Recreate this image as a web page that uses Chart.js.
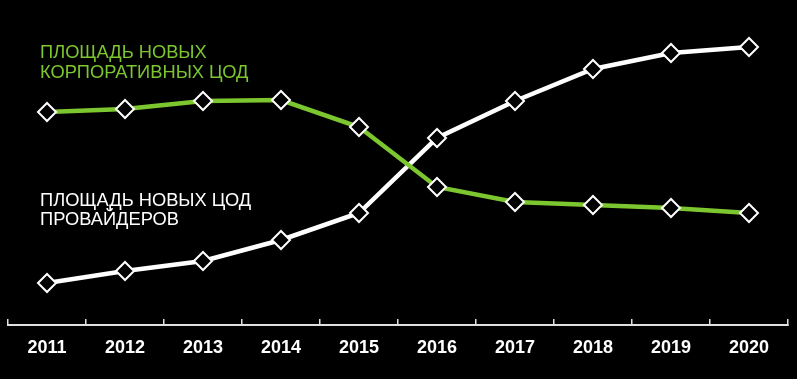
<!DOCTYPE html>
<html><head><meta charset="utf-8">
<style>html,body{margin:0;padding:0;background:#000;}#wrap{width:797px;height:379px;}</style>
<script src="https://cdn.jsdelivr.net/npm/chart.js@4"></script>
</head><body><div id="wrap"><canvas id="c" width="797" height="379"></canvas></div>
<script>
const years = ['2011','2012','2013','2014','2015','2016','2017','2018','2019','2020'];
const corporate = [213, 216, 224, 225, 198, 138, 123, 120, 117, 112];
const providers = [42, 54, 64, 85, 112, 187, 224, 256, 272, 278];
const corporateLabel = ['ПЛОЩАДЬ НОВЫХ', 'КОРПОРАТИВНЫХ ЦОД'];
const providersLabel = ['ПЛОЩАДЬ НОВЫХ ЦОД', 'ПРОВАЙДЕРОВ'];
const GREEN = '#7cc62f';

const labelsPlugin = {
  id: 'seriesLabels',
  afterDraw(chart) {
    const ctx = chart.ctx;
    ctx.save();
    ctx.font = '18.3px "Liberation Sans", Arial, sans-serif';
    ctx.textBaseline = 'middle';
    ctx.textAlign = 'left';
    ctx.fillStyle = GREEN;
    corporateLabel.forEach((t, i) => ctx.fillText(t, 40, 53 + i * 19.5));
    ctx.fillStyle = '#ffffff';
    providersLabel.forEach((t, i) => ctx.fillText(t, 40, 200.5 + i * 19.5));
    ctx.restore();
  }
};

new Chart(document.getElementById('c'), {
  type: 'line',
  data: {
    labels: years,
    datasets: [
      { data: corporate, borderColor: GREEN, borderWidth: 4.5, tension: 0,
        pointStyle: 'rectRot', pointRadius: 9, pointBorderWidth: 2,
        pointBorderColor: '#ffffff', pointBackgroundColor: '#000000' },
      { data: providers, borderColor: '#ffffff', borderWidth: 4.5, tension: 0,
        pointStyle: 'rectRot', pointRadius: 9, pointBorderWidth: 2,
        pointBorderColor: '#ffffff', pointBackgroundColor: '#000000' }
    ]
  },
  options: {
    responsive: false,
    animation: false,
    layout: { autoPadding: false, padding: { left: 8, right: 9, top: 20, bottom: 2.4 } },
    plugins: { legend: { display: false }, tooltip: { enabled: false } },
    scales: {
      x: {
        offset: true,
        grid: { display: true, offset: true, drawOnChartArea: false, drawTicks: true,
                tickLength: -6, color: '#e0e0e0', lineWidth: 1.5 },
        border: { display: true, color: '#e0e0e0', width: 2 },
        ticks: { color: '#ffffff', padding: 18,
                 font: { family: '"Liberation Sans", Arial, sans-serif', size: 18, weight: 'bold' } }
      },
      y: { display: false, min: 0, max: 305 }
    }
  },
  plugins: [labelsPlugin]
});
</script></body></html>
